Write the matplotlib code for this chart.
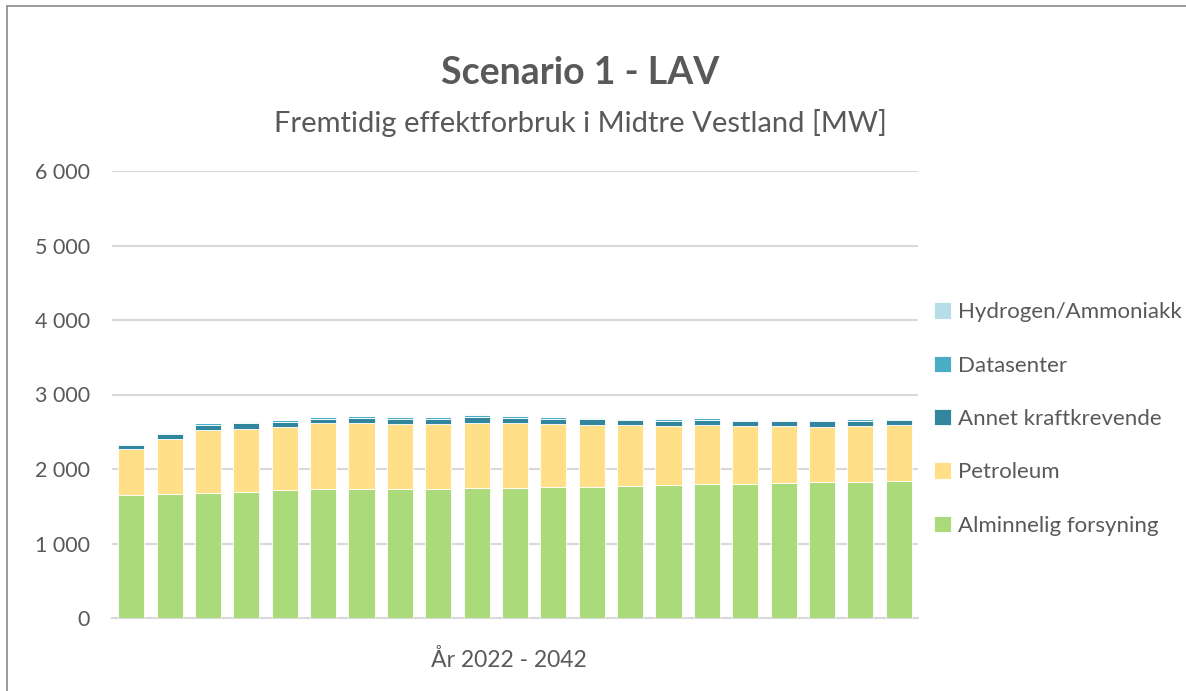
import matplotlib.pyplot as plt
import numpy as np
from matplotlib.patches import Rectangle

# data (MW), years 2022 - 2042
years = list(range(2022, 2043))
alminnelig = [1650, 1666, 1680, 1693, 1716, 1733, 1733, 1729, 1733, 1747, 1747,
              1760, 1765, 1774, 1787, 1800, 1800, 1814, 1823, 1827, 1836]
petroleum = [616, 733, 849, 850, 849, 881, 881, 876, 872, 876, 871,
             845, 831, 813, 791, 787, 778, 764, 742, 756, 751]
annet = [55, 72, 67, 68, 70, 63, 70, 70, 72, 76, 72,
         72, 70, 68, 68, 70, 68, 68, 78, 66, 68]
datasenter = [20, 14, 20, 20, 20, 22, 22, 22, 22, 25, 22,
              22, 20, 18, 20, 22, 18, 18, 14, 18, 18]
hydrogen = [10, 8, 8, 8, 8, 8, 8, 8, 8, 8, 8,
            8, 8, 8, 8, 8, 8, 8, 8, 8, 8]

series = [("Alminnelig forsyning", alminnelig, "#ABDA7B"),
          ("Petroleum", petroleum, "#FFE088"),
          ("Annet kraftkrevende", annet, "#31859C"),
          ("Datasenter", datasenter, "#4BACC6"),
          ("Hydrogen/Ammoniakk", hydrogen, "#B7DEE8")]

plt.rcParams['font.family'] = ['Lato', 'DejaVu Sans']
txt = '#595959'

fig = plt.figure(figsize=(11.86, 6.91), dpi=100)
ax = fig.add_axes([112/1186, 1-618/691, (918-112)/1186, (618-171)/691])

x = np.arange(len(years))
bottom = np.zeros(len(years))
handles = []
for name, vals, col in series:
    b = ax.bar(x, vals, 0.68, bottom=bottom, color=col, edgecolor='white',
               linewidth=0.6, label=name, zorder=3)
    handles.append(b)
    bottom += np.array(vals)

ax.set_ylim(0, 6000)
ax.set_xlim(-0.5, len(years) - 0.5)
ax.set_yticks(range(0, 6001, 1000))
ax.set_yticklabels([f"{v:,}".replace(",", " ") for v in range(0, 6001, 1000)],
                   fontsize=15.5, color=txt)
ax.set_xticks([])
ax.tick_params(axis='y', length=0, pad=16)
ax.grid(axis='y', color='#D9D9D9', linewidth=1.5, zorder=0)
for s in ['top', 'right', 'left']:
    ax.spines[s].set_visible(False)
ax.spines['bottom'].set_color('#D9D9D9')
ax.spines['bottom'].set_linewidth(1.5)

ax.text(509/1186, 1-660/691, "År 2022 - 2042", fontsize=16.5, color=txt,
        ha='center', va='center', transform=fig.transFigure)

fig.text(580/1186, 1-73/691, "Scenario 1 - LAV", fontsize=27, fontweight='bold',
         color=txt, ha='center', va='center')
fig.text(580/1186, 1-123/691, "Fremtidig effektforbruk i Midtre Vestland [MW]",
         fontsize=21, color=txt, ha='center', va='center')

leg = fig.legend(handles[::-1], [s[0] for s in series][::-1],
                 loc='center left', bbox_to_anchor=(925/1186, 1-419/691),
                 frameon=False, fontsize=16, labelcolor=txt, borderaxespad=0,
                 handlelength=0.75, handleheight=0.75, handletextpad=0.35,
                 labelspacing=1.5)

fig.patches.append(Rectangle((7/1186, -0.05), 1.0, 1.05 - 6/691,
                             transform=fig.transFigure, fill=False,
                             edgecolor='#898989', linewidth=1.2))

fig.savefig("out.png", dpi=100)
